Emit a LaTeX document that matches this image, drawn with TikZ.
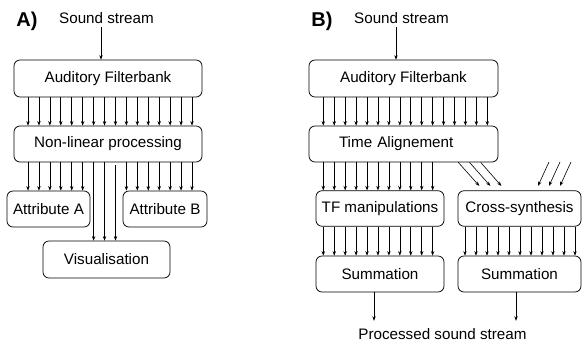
\documentclass[tikz,border=0pt]{standalone}
\usepackage{fontspec}
\setmainfont{Liberation Sans}
\usetikzlibrary{arrows.meta}

\tikzset{
  box/.style={draw, rounded corners=6pt, inner sep=0pt, line width=0.75pt,
              minimum height=36pt},
  txt/.style={inner sep=3pt, anchor=base},
  panel/.style={inner sep=0pt, anchor=base, font=\fontsize{20}{24}\selectfont\bfseries},
  arr/.style={-{Stealth[length=4.5pt,width=3.4pt]}, line width=0.6pt},
}

\begin{document}
\begin{tikzpicture}[x=1pt, y=-1pt, font=\fontsize{15.2}{18}\selectfont]
\useasboundingbox (0,0) rectangle (583,345);

% ---------------- A) analysis chain ----------------
\node[panel] (labA) at (27,26.5) {A)};
\node[txt] (inA) at (106.5,23.5) {Sound stream};
\node[box, minimum width=188pt, minimum height=37pt] (fbA) at (108,78.5) {Auditory Filterbank};
\node[box, minimum width=188pt] (nlA) at (108,144) {Non-linear processing};
\node[box, minimum width=83pt] (atA) at (48.5,209) {Attribute A};
\node[box, minimum width=84pt] (atB) at (165,209) {Attribute B};
\node[box, minimum width=127pt, minimum height=37pt] (visA) at (106.5,259.5) {Visualisation};

\draw[arr] (inA.south -| 101,0) -- (fbA.north -| 101,0);
\foreach \i in {0,...,15}
  \draw[arr] (fbA.south -| {28+10.933*\i},0) -- (nlA.north -| {28+10.933*\i},0);
\foreach \i in {0,...,5}
  \draw[arr] (nlA.south -| {28+10.933*\i},0) -- (atA.north -| {28+10.933*\i},0);
\foreach \i in {6,7}
  \draw[arr] (nlA.south -| {28+10.933*\i},0) -- (visA.north -| {28+10.933*\i},0);
\draw[arr] ([yshift=-3pt]nlA.south -| 115.5,0) -- (visA.north -| 115.5,0);
\foreach \i in {9,...,15}
  \draw[arr] (nlA.south -| {28+10.933*\i},0) -- (atB.north -| {28+10.933*\i},0);

% ---------------- B) resynthesis chain ----------------
\node[panel] (labB) at (322,26.5) {B)};
\node[txt] (inB) at (401.5,23.5) {Sound stream};
\node[box, minimum width=189pt, minimum height=37pt] (fbB) at (403.5,78.5) {Auditory Filterbank};
\node[box, minimum width=189pt, text width=129pt, align=left] (taB) at (403.5,144) {Time Alignement};
\node[box, minimum width=128pt, minimum height=35.5pt] (tfB) at (380,208.5) {TF manipulations};
\node[box, minimum width=123pt, minimum height=35.5pt] (csB) at (519.5,208.5) {Cross-synthesis};
\node[box, minimum width=128pt] (smL) at (380,274) {Summation};
\node[box, minimum width=123pt] (smR) at (519.5,274) {Summation};
\node[txt] (outB) at (442.5,339) {Processed sound stream};

\draw[arr] (inB.south -| 396,0) -- (fbB.north -| 396,0);
\foreach \i in {0,...,15}
  \draw[arr] (fbB.south -| {323.3+10.933*\i},0) -- (taB.north -| {323.3+10.933*\i},0);
\foreach \i in {0,...,10}{
  \draw[arr] (taB.south -| {323.3+10.933*\i},0) -- (tfB.north -| {323.3+10.933*\i},0);
  \draw[arr] (tfB.south -| {323.3+10.933*\i},0) -- (smL.north -| {323.3+10.933*\i},0);
  \draw[arr] (csB.south -| {465+11*\i},0) -- (smR.north -| {465+11*\i},0);
}
% streams fed into the cross-synthesis
\foreach \i in {0,1,2}{
  \draw[arr] (taB.south -| {458.3+11.2*\i},0) -- ([yshift=4.5pt]csB.north -| {479.3+11*\i},0);
  \coordinate (ext\i) at ({549+11*\i},162);
  \draw[arr] (ext\i) -- ([yshift=4.5pt]csB.north -| {538+11*\i},0);
}
\draw[arr] (smL.south -| 374,0) -- ([yshift=4pt]outB.north -| 374,0);
\draw[arr] (smR.south -| 516,0) -- ([yshift=4pt]outB.north -| 516,0);
\end{tikzpicture}
\end{document}
